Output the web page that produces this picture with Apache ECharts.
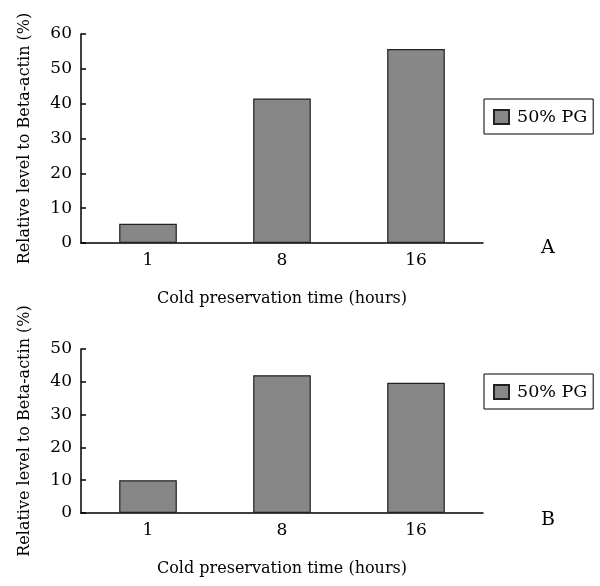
<!DOCTYPE html>
<html>
<head>
<meta charset="UTF-8">
<title>Cold preservation</title>
<script src="https://cdn.jsdelivr.net/npm/echarts@6/dist/echarts.min.js"></script>
<style>
  body{margin:0;padding:0;background:#fff;}
  #chart{width:600px;height:586px;}
</style>
</head>
<body>
<div id="chart"></div>
<script>
var hours = ['1', '8', '16'];
var levelA = [5.5, 41.5, 55.7];
var levelB = [10, 42, 39.7];
var seriesName = '50% PG';
var xName = 'Cold preservation time (hours)';
var yName = 'Relative level to Beta-actin (%)';

var font = 'DejaVu Serif';
var ink = '#000';
var barColor = '#878787';

function xAxis(gridIndex){
  return {
    type:'category', gridIndex:gridIndex, data:hours,
    name:xName, nameLocation:'middle', nameGap:48,
    nameTextStyle:{fontFamily:font, fontSize:16, color:ink},
    axisLine:{lineStyle:{color:ink, width:1.5}},
    axisTick:{inside:true, length:5, lineStyle:{color:ink, width:1.5}},
    axisLabel:{fontFamily:font, fontSize:17, color:ink, margin:9}
  };
}
function yAxis(gridIndex, max){
  return {
    type:'value', gridIndex:gridIndex, min:0, max:max, interval:10,
    name:yName, nameLocation:'middle', nameGap:48,
    nameTextStyle:{fontFamily:font, fontSize:16, color:ink},
    axisLine:{show:true, lineStyle:{color:ink, width:1.5}},
    axisTick:{show:true, inside:true, length:5, lineStyle:{color:ink, width:1.5}},
    axisLabel:{fontFamily:font, fontSize:17, color:ink, margin:9},
    splitLine:{show:false}
  };
}
function legend(top){
  return {
    data:[{name:seriesName, icon:'rect'}], left:484, top:top, orient:'vertical',
    borderColor:ink, borderWidth:1, padding:[9,6,8,9],
    itemWidth:15, itemHeight:14, itemGap:0,
    textStyle:{fontFamily:font, fontSize:17.5, color:ink, padding:[0,0,0,3]},
    selectedMode:false
  };
}
function bars(idx, values){
  return {
    name:seriesName, type:'bar', xAxisIndex:idx, yAxisIndex:idx,
    data:values, barWidth:'43%',
    itemStyle:{color:barColor, borderColor:'#222', borderWidth:1.2},
    emphasis:{disabled:true}
  };
}

var chart = echarts.init(document.getElementById('chart'), null, {renderer:'canvas'});
chart.setOption({
  animation:false,
  title:[
    {text:'A', left:536, top:234, textStyle:{fontFamily:font, fontSize:19, fontWeight:'normal', color:ink}},
    {text:'B', left:536, top:506, textStyle:{fontFamily:font, fontSize:19, fontWeight:'normal', color:ink}}
  ],
  legend:[legend(99), legend(374)],
  grid:[
    {left:81, top:34, width:402, height:209},
    {left:81, top:349, width:402, height:164}
  ],
  xAxis:[xAxis(0), xAxis(1)],
  yAxis:[yAxis(0, 60), yAxis(1, 50)],
  series:[bars(0, levelA), bars(1, levelB)]
});
</script>
</body>
</html>
